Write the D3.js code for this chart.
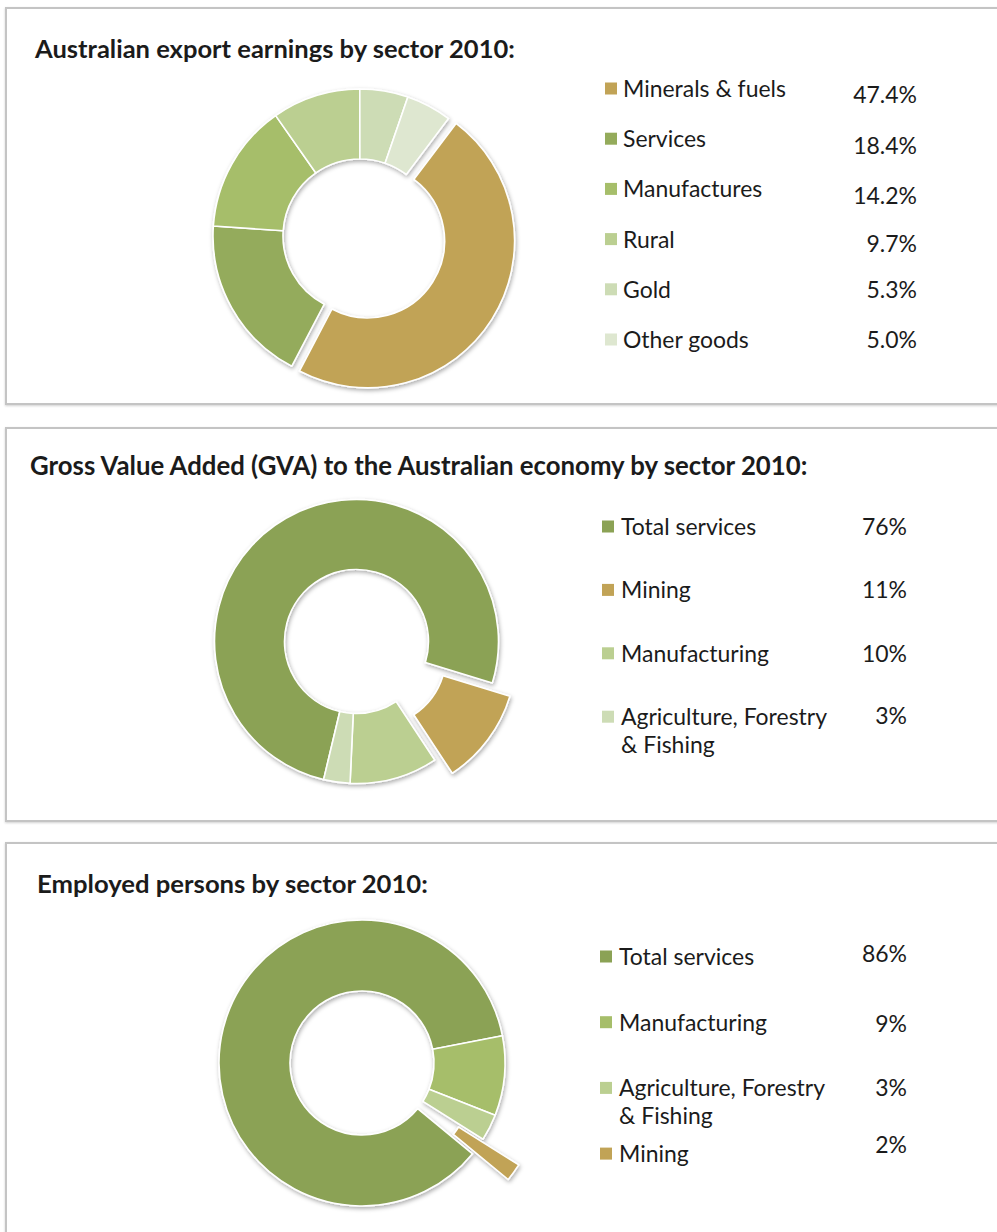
<!DOCTYPE html>
<html>
<head>
<meta charset="utf-8">
<script src="https://cdn.jsdelivr.net/npm/d3@7/dist/d3.min.js"></script>
<style>
  html, body { margin: 0; padding: 0; background: #fff; }
  svg { display: block; }
  text { font-family: Lato, "Open Sans", sans-serif; fill: #1b1b1b; }
</style>
</head>
<body>
<svg id="chart" width="997" height="1232"></svg>
<script>
// ---------- DATA ----------
const exportTitle = "Australian export earnings by sector 2010:";
const exportCategories = ["Minerals & fuels", "Services", "Manufactures", "Rural", "Gold", "Other goods"];
const exportValues = [47.4, 18.4, 14.2, 9.7, 5.3, 5.0];
const exportLabels = ["47.4%", "18.4%", "14.2%", "9.7%", "5.3%", "5.0%"];

const gvaTitle = "Gross Value Added (GVA) to the Australian economy by sector 2010:";
const gvaCategories = ["Total services", "Mining", "Manufacturing", "Agriculture, Forestry|& Fishing"];
const gvaValues = [76, 11, 10, 3];
const gvaLabels = ["76%", "11%", "10%", "3%"];

const empTitle = "Employed persons by sector 2010:";
const empCategories = ["Total services", "Manufacturing", "Agriculture, Forestry|& Fishing", "Mining"];
const empValues = [86, 9, 3, 2];
const empLabels = ["86%", "9%", "3%", "2%"];

// ---------- STYLE / LAYOUT ----------
const C = {
  gold: "#c1a356", dkgreen: "#8ba255", green1: "#94ab5b", green2: "#a6be6a",
  green3: "#bbcf91", green4: "#cddcb5", green5: "#dee7d0"
};
const deg = Math.PI / 180;

const panels = [
  {
    title: exportTitle, cats: exportCategories, vals: exportValues, labs: exportLabels,
    colors: [C.gold, C.green1, C.green2, C.green3, C.green4, C.green5],
    explode: [9, 0, 0, 0, 0, 0],
    box: [6, 8, 404], titleX: 35, titleY: 58, titleW: 480,
    cx: 360, cy: 236, R: 147, r: 77, start: 37 * deg,
    legend: { sx: 605, tx: 623, vx: 917, y0: 97, step: 50.2, vdy: [6, 7, 7, 4, 0, 0] }
  },
  {
    title: gvaTitle, cats: gvaCategories, vals: gvaValues, labs: gvaLabels,
    colors: [C.dkgreen, C.gold, C.green3, C.green4],
    explode: [0, 22, 0, 0],
    box: [6, 428, 821], titleX: 30, titleY: 475, titleW: 778,
    cx: 356.5, cy: 641.5, R: 142, r: 72, start: 193.4 * deg,
    legend: { sx: 602, tx: 621, vx: 907, y0: 535, step: 63.4, vdy: [0, 0, 0, -1] }
  },
  {
    title: empTitle, cats: empCategories, vals: empValues, labs: empLabels,
    colors: [C.dkgreen, C.green2, C.green3, C.gold],
    explode: [0, 0, 0, 44],
    box: [6, 843, 1260], titleX: 37, titleY: 893, titleW: 391,
    cx: 362, cy: 1063, R: 143, r: 72, start: 129.4 * deg,
    legend: { sx: 600, tx: 619, vx: 907, y0: 965, step: 65.7, vdy: [-3, 1, 0, -9] }
  }
];

const svg = d3.select("#chart");
const defs = svg.append("defs");
const shadow = defs.append("filter").attr("id", "shadow")
  .attr("x", "-20%").attr("y", "-20%").attr("width", "140%").attr("height", "140%");
shadow.append("feDropShadow").attr("dx", 1).attr("dy", 2).attr("stdDeviation", 2.2)
  .attr("flood-color", "#000").attr("flood-opacity", 0.33);
const boxShadow = defs.append("filter").attr("id", "boxshadow")
  .attr("x", "-5%").attr("y", "-5%").attr("width", "110%").attr("height", "110%");
boxShadow.append("feDropShadow").attr("dx", 0).attr("dy", 1).attr("stdDeviation", 1)
  .attr("flood-color", "#000").attr("flood-opacity", 0.18);

// legend font sized so that "Minerals & fuels" spans ~165px, as in the reference
const probe = svg.append("text").attr("font-size", 20).text(exportCategories[0]);
const LEGEND_FONT = 20 * 163 / probe.node().getComputedTextLength();
probe.remove();

panels.forEach(p => {
  const g = svg.append("g");
  g.append("rect")
    .attr("x", p.box[0]).attr("y", p.box[1])
    .attr("width", 1100).attr("height", p.box[2] - p.box[1])
    .attr("fill", "#fff").attr("stroke", "#c4c4c4").attr("stroke-width", 2)
    .attr("filter", "url(#boxshadow)");

  const t = g.append("text")
    .attr("x", p.titleX).attr("y", p.titleY)
    .attr("font-weight", 700).attr("font-size", 20)
    .text(p.title);
  const w = t.node().getComputedTextLength();
  t.attr("font-size", 20 * p.titleW / w);

  const pie = d3.pie().sort(null).value(d => d)
    .startAngle(p.start).endAngle(p.start + 2 * Math.PI);
  const arc = d3.arc().innerRadius(p.r).outerRadius(p.R);
  const arcs = pie(p.vals);
  const dg = g.append("g").attr("transform", `translate(${p.cx},${p.cy})`)
    .attr("filter", "url(#shadow)");
  dg.selectAll("path").data(arcs).join("path")
    .attr("d", arc)
    .attr("fill", (d, i) => p.colors[i])
    .attr("stroke", "#fff").attr("stroke-width", 1.6).attr("stroke-linejoin", "round")
    .attr("transform", (d, i) => {
      const m = (d.startAngle + d.endAngle) / 2, e = p.explode[i];
      return `translate(${e * Math.sin(m)},${-e * Math.cos(m)})`;
    });

  const L = p.legend;
  const rows = g.append("g");
  p.cats.forEach((c, i) => {
    const y = L.y0 + i * L.step;
    rows.append("rect")
      .attr("x", L.sx).attr("y", y - 14.5).attr("width", 12).attr("height", 12)
      .attr("fill", p.colors[i]);
    const lt = rows.append("text").attr("x", L.tx).attr("y", y)
      .attr("font-size", LEGEND_FONT);
    c.split("|").forEach((line, k) => {
      lt.append("tspan").attr("x", L.tx).attr("dy", k === 0 ? 0 : 27.5).text(line);
    });
    rows.append("text").attr("x", L.vx).attr("y", y + L.vdy[i])
      .attr("font-size", LEGEND_FONT).attr("text-anchor", "end")
      .text(p.labs[i]);
  });
});
</script>
</body>
</html>
